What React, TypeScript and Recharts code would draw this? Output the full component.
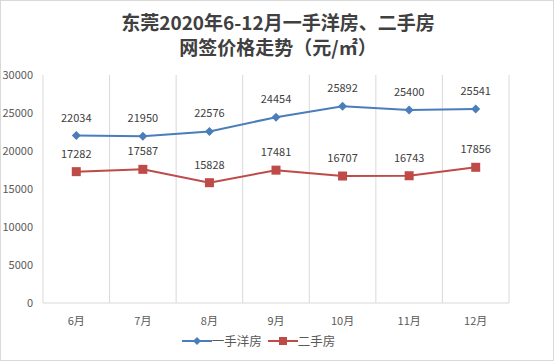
import { CartesianGrid, LabelList, Legend, Line, LineChart, XAxis, YAxis } from "recharts";

const months = ["6月", "7月", "8月", "9月", "10月", "11月", "12月"];
const firstHand = [22034, 21950, 22576, 24454, 25892, 25400, 25541];
const secondHand = [17282, 17587, 15828, 17481, 16707, 16743, 17856];
const yTicks = [0, 5000, 10000, 15000, 20000, 25000, 30000];

const data = months.map((m, i) => ({ month: m, first: firstHand[i], second: secondHand[i] }));

const BLUE = "#4A7EBB";
const RED = "#BE4B48";
const FONT = "'Noto Sans CJK SC', 'Noto Sans', sans-serif";

const Diamond = (props: any) => {
  const { cx, cy } = props;
  if (cx == null || cy == null) return null;
  const r = 4.5;
  return <path d={`M${cx},${cy - r}L${cx + r},${cy}L${cx},${cy + r}L${cx - r},${cy}Z`} fill={BLUE} />;
};

const Square = (props: any) => {
  const { cx, cy } = props;
  if (cx == null || cy == null) return null;
  return <rect x={cx - 4.5} y={cy - 4.5} width={9} height={9} fill={RED} />;
};

function LegendBox() {
  return (
    <div style={{ display: "flex", justifyContent: "center", alignItems: "center", fontFamily: FONT, fontSize: 12.5, color: "#595959" }}>
      <svg width={30} height={12}>
        <line x1={0} y1={6} x2={30} y2={6} stroke={BLUE} strokeWidth={2} />
        <path d="M15,2L19,6L15,10L11,6Z" fill={BLUE} />
      </svg>
      <span style={{ marginRight: 6 }}>一手洋房</span>
      <svg width={30} height={12}>
        <line x1={0} y1={6} x2={30} y2={6} stroke={RED} strokeWidth={2} />
        <rect x={11} y={2} width={8} height={8} fill={RED} />
      </svg>
      <span>二手房</span>
    </div>
  );
}

export default function App() {
  return (
    <div style={{ position: "absolute", left: 0, top: 0, width: 554, height: 361, background: "#fff", boxSizing: "border-box", border: "1px solid #d9d9d9" }}>
      <div style={{ position: "absolute", top: 8, left: 0, width: 554, textAlign: "center", fontFamily: FONT, fontWeight: 700, fontSize: 19, lineHeight: "25px", color: "#404040" }}>
        东莞2020年6-12月一手洋房、二手房
        <br />
        网签价格走势（元/㎡）
      </div>
      <LineChart width={552} height={359} data={data} margin={{ top: 74, right: 44, bottom: 4, left: 7 }} style={{ position: "absolute", left: 0, top: 0 }}>
        <CartesianGrid
          horizontal={false}
          stroke="#d9d9d9"
          verticalCoordinatesGenerator={({ offset }: any) =>
            Array.from({ length: months.length + 1 }, (_, i) => offset.left + (i * offset.width) / months.length)
          }
        />
        <XAxis
          dataKey="month"
          scale="band"
          height={28}
          tickLine={false}
          axisLine={{ stroke: "#d9d9d9" }}
          tick={{ fontSize: 11, fill: "#595959", fontFamily: FONT }}
          tickMargin={8}
        />
        <YAxis
          width={35}
          domain={[0, 30000]}
          ticks={yTicks}
          axisLine={false}
          tickLine={false}
          tick={{ fontSize: 11, fill: "#595959", fontFamily: FONT }}
          tickMargin={4}
        />
        <Legend verticalAlign="bottom" height={25} content={() => <LegendBox />} />
        <Line dataKey="first" stroke={BLUE} strokeWidth={2} dot={<Diamond />} isAnimationActive={false}>
          <LabelList dataKey="first" position="top" offset={14} style={{ fontSize: 11, fill: "#404040", fontFamily: FONT }} />
        </Line>
        <Line dataKey="second" stroke={RED} strokeWidth={2} dot={<Square />} isAnimationActive={false}>
          <LabelList dataKey="second" position="top" offset={14} style={{ fontSize: 11, fill: "#404040", fontFamily: FONT }} />
        </Line>
      </LineChart>
    </div>
  );
}
